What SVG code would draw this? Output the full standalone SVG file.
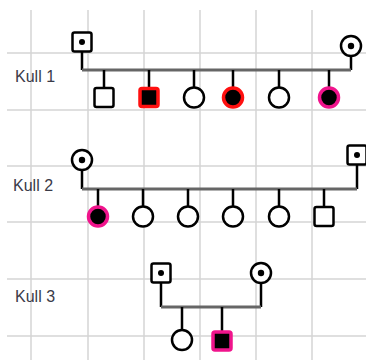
<svg xmlns="http://www.w3.org/2000/svg" width="366" height="360" viewBox="0 0 366 360">
  <style>
    .grid line { stroke: #d4d4d4; stroke-width: 1.5; }
    .sib { stroke: #666; stroke-width: 3; fill: none; }
    .drop { stroke: #000; stroke-width: 2.5; fill: none; }
    .m { fill: #fff; stroke: #000; stroke-width: 2.5; }
    .f { fill: #fff; stroke: #000; stroke-width: 2.5; }
    .dot { fill: #000; }
    .aff-red { fill: #000; stroke: #ff1010; stroke-width: 3.5; }
    .aff-pink { fill: #000; stroke: #f0148c; stroke-width: 3.5; }
    .lbl { font-family: "Liberation Sans", Arial, sans-serif; font-size: 16px; fill: #3a3a48; }
  </style>
  <rect width="366" height="360" fill="#fff"/>

  <!-- background grid -->
  <g class="grid">
    <line x1="31" y1="10" x2="31" y2="360"/>
    <line x1="88" y1="10" x2="88" y2="360"/>
    <line x1="144" y1="10" x2="144" y2="360"/>
    <line x1="200" y1="10" x2="200" y2="360"/>
    <line x1="256" y1="10" x2="256" y2="360"/>
    <line x1="312" y1="10" x2="312" y2="360"/>
    <line x1="7" y1="53" x2="366" y2="53"/>
    <line x1="7" y1="110" x2="366" y2="110"/>
    <line x1="7" y1="166" x2="366" y2="166"/>
    <line x1="7" y1="222" x2="366" y2="222"/>
    <line x1="7" y1="279" x2="366" y2="279"/>
    <line x1="7" y1="336" x2="366" y2="336"/>
  </g>

  <!-- generation labels -->
  <text class="lbl" x="15" y="82">Kull 1</text>
  <text class="lbl" x="13" y="191">Kull 2</text>
  <text class="lbl" x="15" y="302">Kull 3</text>

  <!-- connectors -->
  <g id="connectors">
    <!-- litter 1 -->
    <path class="drop" d="M82 51V70M351 56V70"/>
    <path class="sib" d="M82 70H351"/>
    <path class="drop" d="M104 70V88M149 70V88M194 70V88M233 70V88M279 70V88M329 70V88"/>
    <!-- litter 2 -->
    <path class="drop" d="M82 170V189M357 165V189"/>
    <path class="sib" d="M82 189H357"/>
    <path class="drop" d="M98 189V207M143 189V207M188 189V207M233 189V207M279 189V207M324 189V207"/>
    <!-- litter 3 -->
    <path class="drop" d="M161 283V307M261 283V307"/>
    <path class="sib" d="M161 307H261"/>
    <path class="drop" d="M182 307V330M222 307V331"/>
  </g>

  <!-- litter 1 parents -->
  <g id="k1-sire"><rect class="m" x="72.5" y="32.5" width="19" height="19" rx="2"/><circle class="dot" cx="82" cy="42" r="3"/></g>
  <g id="k1-dam"><circle class="f" cx="351" cy="46" r="10"/><circle class="dot" cx="351" cy="46" r="3.2"/></g>
  <!-- litter 1 offspring -->
  <g id="k1-c1"><rect class="m" x="94.5" y="88" width="19" height="19" rx="2"/></g>
  <g id="k1-c2"><rect class="aff-red" x="140" y="88.5" width="18" height="18" rx="2"/></g>
  <g id="k1-c3"><circle class="f" cx="194" cy="97.5" r="10"/></g>
  <g id="k1-c4"><circle class="aff-red" cx="233" cy="97.5" r="9.5"/></g>
  <g id="k1-c5"><circle class="f" cx="279" cy="97.5" r="10"/></g>
  <g id="k1-c6"><circle class="aff-pink" cx="329" cy="97.5" r="9.5"/></g>

  <!-- litter 2 parents -->
  <g id="k2-dam"><circle class="f" cx="82" cy="160" r="10"/><circle class="dot" cx="82" cy="160" r="3.2"/></g>
  <g id="k2-sire"><rect class="m" x="347.5" y="145.5" width="19" height="19" rx="2"/><circle class="dot" cx="357" cy="155" r="3"/></g>
  <!-- litter 2 offspring -->
  <g id="k2-c1"><circle class="aff-pink" cx="98" cy="216.5" r="9.5"/></g>
  <g id="k2-c2"><circle class="f" cx="143" cy="216.5" r="10"/></g>
  <g id="k2-c3"><circle class="f" cx="188" cy="216.5" r="10"/></g>
  <g id="k2-c4"><circle class="f" cx="233" cy="216.5" r="10"/></g>
  <g id="k2-c5"><circle class="f" cx="279" cy="216.5" r="10"/></g>
  <g id="k2-c6"><rect class="m" x="314.5" y="207" width="19" height="19" rx="2"/></g>

  <!-- litter 3 parents -->
  <g id="k3-sire"><rect class="m" x="151.5" y="263.5" width="19" height="19" rx="2"/><circle class="dot" cx="161" cy="273" r="3"/></g>
  <g id="k3-dam"><circle class="f" cx="261" cy="273" r="10"/><circle class="dot" cx="261" cy="273" r="3.2"/></g>
  <!-- litter 3 offspring -->
  <g id="k3-c1"><circle class="f" cx="182" cy="340" r="10"/></g>
  <g id="k3-c2"><rect class="aff-pink" x="213" y="332" width="18" height="18" rx="2"/></g>
</svg>
